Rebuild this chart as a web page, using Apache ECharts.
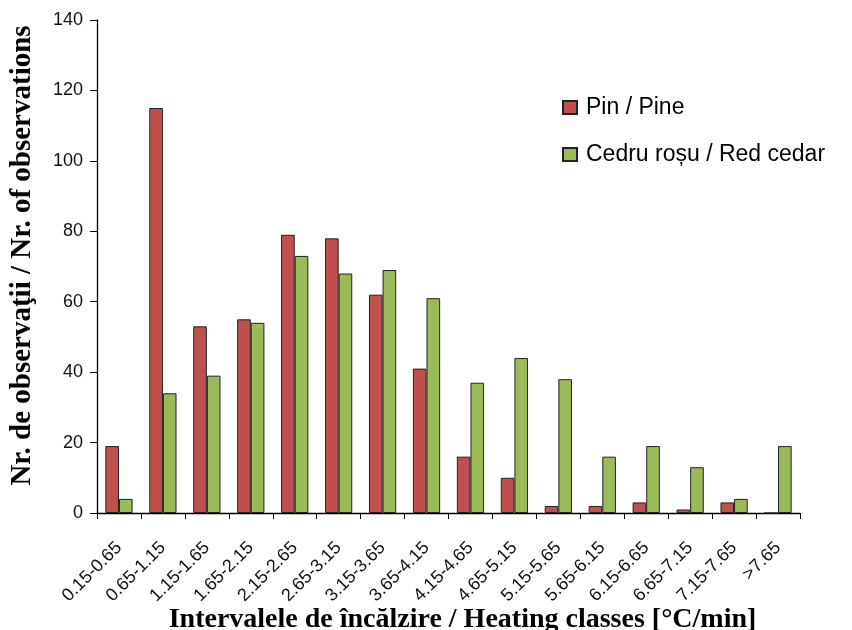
<!DOCTYPE html>
<html>
<head>
<meta charset="utf-8">
<script src="https://cdn.jsdelivr.net/npm/echarts@6/dist/echarts.min.js"></script>
<style>html,body{margin:0;padding:0;background:#fff}#c{width:852px;height:630px}</style>
</head>
<body>
<div id="c"></div>
<script>
const categories = ["0.15-0.65","0.65-1.15","1.15-1.65","1.65-2.15","2.15-2.65","2.65-3.15","3.15-3.65","3.65-4.15","4.15-4.65","4.65-5.15","5.15-5.65","5.65-6.15","6.15-6.65","6.65-7.15","7.15-7.65",">7.65"];
const pine = [19,115,53,55,79,78,62,41,16,10,2,2,3,1,3,0];
const cedar = [4,34,39,54,73,68,69,61,37,44,38,16,19,13,4,19];
const yTicks = {min:0, max:140, interval:20};

const chart = echarts.init(document.getElementById('c'));
chart.setOption({
  animation:false,
  backgroundColor:'#fff',
  grid:{left:97,right:52,top:20,bottom:117,containLabel:false,outerBoundsMode:'none'},
  legend:{
    orient:'vertical', left:557, top:91, itemGap:24,
    itemWidth:14, itemHeight:13, icon:'rect',
    textStyle:{fontFamily:'Liberation Sans, Arial', fontSize:23, lineHeight:22, color:'#000', padding:[0,0,0,4]},
    data:['Pin / Pine','Cedru roșu / Red cedar']
  },
  xAxis:{
    type:'category', data:categories, boundaryGap:true,
    axisLine:{lineStyle:{color:'#000',width:1.3}},
    axisTick:{show:true,inside:false,length:6,alignWithLabel:false,lineStyle:{color:'#000'}},
    axisLabel:{rotate:45,interval:0,margin:32,fontFamily:'Liberation Sans, Arial',fontSize:18,color:'#111'},
    name:'Intervalele de încălzire / Heating classes [°C/min]',
    nameLocation:'middle', nameGap:93, nameMoveOverlap:false,
    nameTextStyle:{fontFamily:'Liberation Serif, Times New Roman',fontWeight:'bold',fontSize:28,color:'#000',padding:[0,0,0,28]}
  },
  yAxis:{
    type:'value', min:yTicks.min, max:yTicks.max, interval:yTicks.interval,
    splitLine:{show:false},
    axisLine:{show:true,lineStyle:{color:'#000',width:1.3}},
    axisTick:{show:true,length:7,lineStyle:{color:'#000'}},
    axisLabel:{margin:14,fontFamily:'Liberation Sans, Arial',fontSize:18,color:'#111'},
    name:'Nr. de observaţii / Nr. of observations',
    nameLocation:'middle', nameGap:60, nameMoveOverlap:false,
    nameTextStyle:{fontFamily:'Liberation Serif, Times New Roman',fontWeight:'bold',fontSize:29,color:'#000',padding:[0,0,0,22]}
  },
  series:[
    {name:'Pin / Pine',type:'bar',data:pine,barGap:'0%',barCategoryGap:'38%',
     itemStyle:{color:'#C0504D',borderColor:'#222',borderWidth:1}},
    {name:'Cedru roșu / Red cedar',type:'bar',data:cedar,
     itemStyle:{color:'#9BBB59',borderColor:'#222',borderWidth:1}}
  ]
});
</script>
</body>
</html>
